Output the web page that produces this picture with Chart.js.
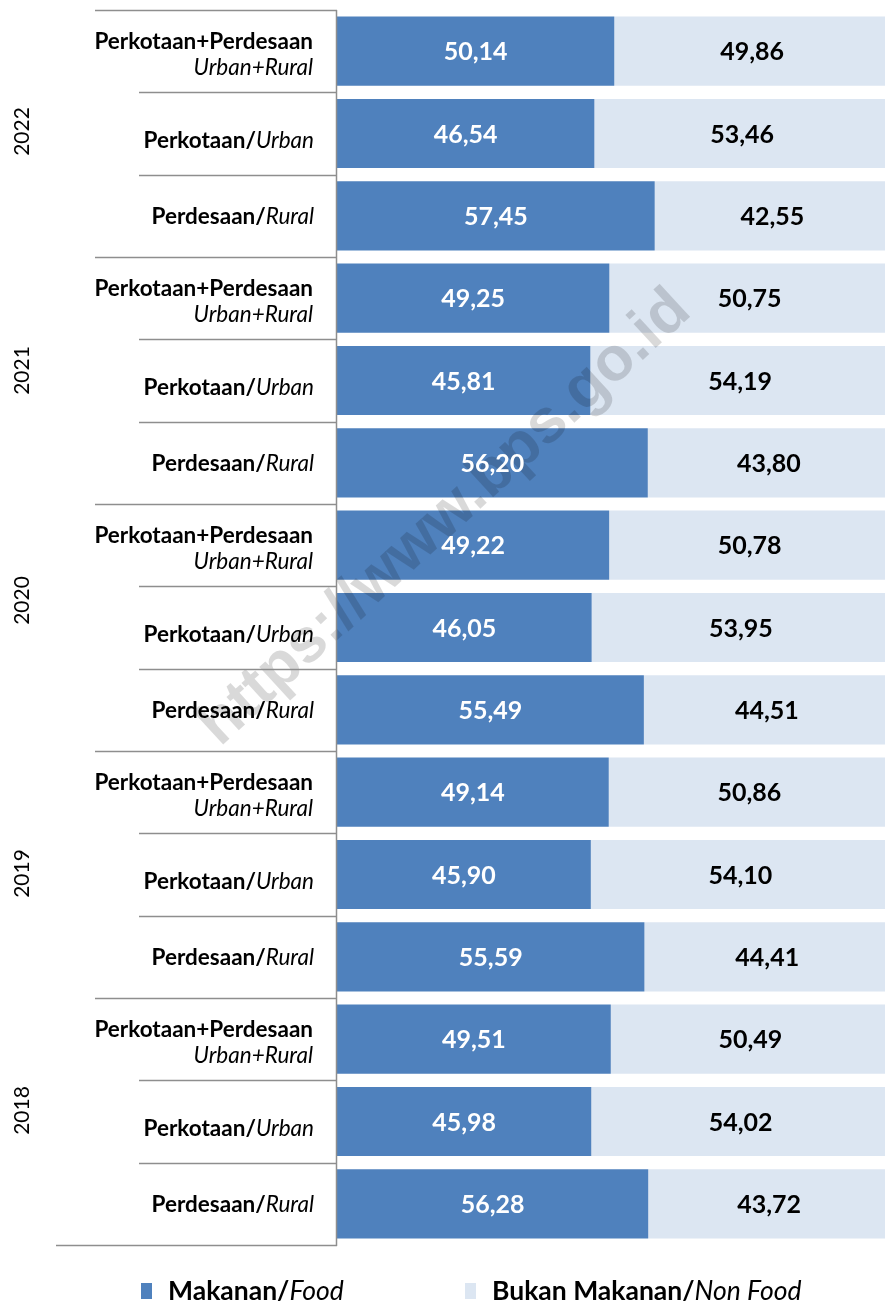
<!DOCTYPE html>
<html>
<head>
<meta charset="utf-8">
<script src="https://cdn.jsdelivr.net/npm/chart.js@4.4.1/dist/chart.umd.min.js"></script>
<style>
  html, body { margin: 0; padding: 0; background: #ffffff; overflow: hidden; }
  #wrap { width: 891px; height: 1302px; }
</style>
</head>
<body>
<div id="wrap"><canvas id="c" width="891" height="1302"></canvas></div>
<script>
// ---------- DATA ----------
const years = ['2022', '2021', '2020', '2019', '2018'];
const areaBold = ['Perkotaan+Perdesaan', 'Perkotaan/', 'Perdesaan/'];
const areaItalic = ['Urban+Rural', 'Urban', 'Rural'];
const food = [50.14, 46.54, 57.45, 49.25, 45.81, 56.20, 49.22, 46.05, 55.49, 49.14, 45.90, 55.59, 49.51, 45.98, 56.28];
const nonFood = [49.86, 53.46, 42.55, 50.75, 54.19, 43.80, 50.78, 53.95, 44.51, 50.86, 54.10, 44.41, 50.49, 54.02, 43.72];
const seriesNames = [['Makanan/', 'Food'], ['Bukan Makanan/', 'Non Food']];
const watermark = 'https://www.bps.go.id';

// categories built from years x areas
const categories = [];
years.forEach(y => areaBold.forEach((a, j) => categories.push(y + ' ' + a + areaItalic[j])));

// ---------- STYLE ----------
const FOOD_COLOR = '#4F81BD';
const NONFOOD_COLOR = '#DCE6F2';
const LINE_COLOR = '#8E8E8E';
const FONT = 'Lato, "Noto Sans", sans-serif';
const YEAR_SHIFT = [-2, -10, -27, -1, -11];

const fmt = v => v.toFixed(2).replace('.', ',');

function drawMixed(ctx, parts, xRight, y, size) {
  let widths = parts.map(p => { ctx.font = p[1] + ' ' + size + 'px ' + FONT; return ctx.measureText(p[0]).width; });
  let total = widths.reduce((a, b) => a + b, 0);
  let x = xRight - total;
  ctx.textAlign = 'left';
  parts.forEach((p, i) => { ctx.font = p[1] + ' ' + size + 'px ' + FONT; ctx.fillText(p[0], x, y); x += widths[i]; });
}

const decor = {
  id: 'decor',
  afterDatasetsDraw(chart) {
    const ctx = chart.ctx;
    // watermark
    ctx.save();
    ctx.translate(445, 518);
    ctx.rotate(-42.5 * Math.PI / 180);
    ctx.font = 'bold 62px "Liberation Sans", Arial, sans-serif';
    ctx.fillStyle = 'rgba(0,0,0,0.15)';
    ctx.textAlign = 'center';
    ctx.textBaseline = 'middle';
    ctx.fillText(watermark, 0, 0);
    ctx.restore();

    // value labels
    ctx.save();
    ctx.textAlign = 'center';
    ctx.textBaseline = 'middle';
    ctx.font = 'bold 25px ' + FONT;
    chart.data.datasets.forEach((ds, di) => {
      const meta = chart.getDatasetMeta(di);
      meta.data.forEach((el, i) => {
        const c = el.getCenterPoint();
        ctx.fillStyle = di === 0 ? '#FFFFFF' : '#000000';
        ctx.fillText(fmt(ds.data[i]), c.x, c.y + 1);
      });
    });
    ctx.restore();
  },
  afterDraw(chart) {
    const ctx = chart.ctx;
    const area = chart.chartArea;
    const yScale = chart.scales.y;
    const n = categories.length;
    const slot = (area.bottom - area.top) / n;
    ctx.save();
    // separators
    ctx.strokeStyle = LINE_COLOR;
    ctx.lineWidth = 1.5;
    for (let k = 0; k <= n; k++) {
      const y = Math.round(area.top + k * slot) + 0.5;
      const x0 = k === n ? 56 : (k % 3 === 0 ? 95 : 139);
      ctx.beginPath();
      ctx.moveTo(x0, y);
      ctx.lineTo(area.left, y);
      ctx.stroke();
    }
    // axis line
    ctx.beginPath();
    ctx.moveTo(area.left - 0.5, area.top);
    ctx.lineTo(area.left - 0.5, area.bottom + 1);
    ctx.stroke();

    // category labels
    ctx.fillStyle = '#000000';
    ctx.textBaseline = 'middle';
    const size = 22.5;
    categories.forEach((c, i) => {
      const y = yScale.getPixelForValue(i);
      const t = i % 3;
      if (t === 0) {
        drawMixed(ctx, [[areaBold[0], 'bold']], 313, y - 9, size);
        drawMixed(ctx, [[areaItalic[0], 'italic']], 313, y + 17, size);
      } else if (t === 1) {
        drawMixed(ctx, [[areaBold[1], 'bold'], [areaItalic[1], 'italic']], 314, y + 7, size);
      } else {
        drawMixed(ctx, [[areaBold[2], 'bold'], [areaItalic[2], 'italic']], 314, y + 1, size);
      }
    });

    // year labels
    ctx.font = '21px ' + FONT;
    ctx.textAlign = 'center';
    years.forEach((yr, g) => {
      const y = yScale.getPixelForValue(g * 3 + 1) + YEAR_SHIFT[g];
      ctx.save();
      ctx.translate(22, y);
      ctx.rotate(-Math.PI / 2);
      ctx.fillText(yr, 0, 0);
      ctx.restore();
    });

    // legend
    const legY = 1291;
    const legX = [141, 465];
    const legColors = [FOOD_COLOR, NONFOOD_COLOR];
    seriesNames.forEach((nm, i) => {
      ctx.fillStyle = legColors[i];
      ctx.fillRect(legX[i], legY - 8, 11, 16);
      ctx.fillStyle = '#000000';
      ctx.textBaseline = 'middle';
      let x = legX[i] + 27;
      ctx.textAlign = 'left';
      ctx.font = 'bold 26.5px ' + FONT;
      ctx.fillText(nm[0], x, legY);
      x += ctx.measureText(nm[0]).width;
      ctx.font = 'italic 26.5px ' + FONT;
      ctx.fillText(nm[1], x, legY);
    });
    ctx.restore();
  }
};

new Chart(document.getElementById('c'), {
  type: 'bar',
  data: {
    labels: categories,
    datasets: [
      { label: 'Makanan/Food', data: food, backgroundColor: FOOD_COLOR, borderWidth: 0 },
      { label: 'Bukan Makanan/Non Food', data: nonFood, backgroundColor: NONFOOD_COLOR, borderWidth: 0 }
    ]
  },
  options: {
    indexAxis: 'y',
    responsive: false,
    animation: false,
    layout: { padding: { left: 337, right: 1, top: 10, bottom: 57 } },
    datasets: { bar: { categoryPercentage: 1.0, barPercentage: 0.84 } },
    scales: {
      x: { stacked: true, min: 0, max: 100, display: false },
      y: { stacked: true, display: false }
    },
    plugins: { legend: { display: false }, tooltip: { enabled: false } }
  },
  plugins: [decor]
});
</script>
</body>
</html>
